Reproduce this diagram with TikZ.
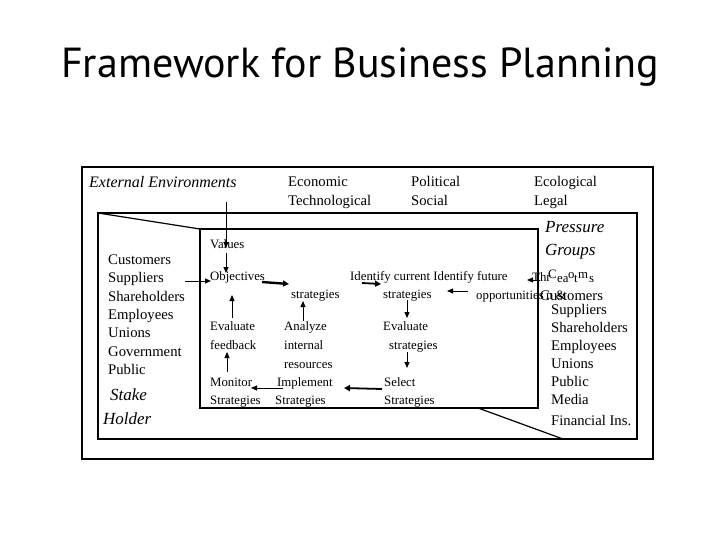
\documentclass[tikz,border=0pt]{standalone}
\usepackage{fontspec}
\setmainfont{Liberation Serif}
\newfontfamily\titlefont{PT Sans}
\usetikzlibrary{arrows.meta}
\begin{document}
\begin{tikzpicture}[x=1pt,y=-1pt,
  frame/.style={line width=1.2pt},
  lbl/.style={anchor=base west,inner sep=0pt,font=\fontsize{14.7}{17}\selectfont},
  ilbl/.style={anchor=base west,inner sep=0pt,font=\fontsize{12.8}{15}\selectfont},
  itl/.style={anchor=base west,inner sep=0pt,font=\fontsize{17}{20}\selectfont\itshape},
  arr/.style={-{Triangle[length=6pt,width=5pt]},line width=0.9pt},
  tarr/.style={-{Triangle[length=6pt,width=6pt]},line width=2.4pt}]
\useasboundingbox (0,0) rectangle (720,540);
% title
\node[inner sep=0pt] (title) at (360,67) {\titlefont\fontsize{42}{50}\selectfont Framework for Business Planning};
% frames
\draw[frame] (82,167) rectangle (653,459);
\draw[frame] (98,213) rectangle (637,439);
\draw[frame] (200,229) rectangle (538,408);
\draw[frame] (98,213) -- (200,229);
\draw[frame] (478,408) -- (563,439);
% top row
\node[itl,font=\fontsize{16}{19}\selectfont\itshape] (ext) at (89,188) {External Environments};
\node[lbl] (eco) at (288,187) {Economic};
\node[lbl] (tech) at (288,206) {Technological};
\node[lbl] (pol) at (411,187) {Political};
\node[lbl] (soc) at (411,206) {Social};
\node[lbl] (ecol) at (534,187) {Ecological};
\node[lbl] (leg) at (534,206) {Legal};
\node[itl] (press) at (545,233) {Pressure};
\node[itl] (groups) at (545,255) {Groups};
% left list
\node[lbl] (lc) at (108,264) {Customers};
\node[lbl] (ls) at (108,282) {Suppliers};
\node[lbl] (lsh) at (108,301) {Shareholders};
\node[lbl] (le) at (108,319) {Employees};
\node[lbl] (lu) at (108,337) {Unions};
\node[lbl] (lg) at (108,356) {Government};
\node[lbl] (lp) at (108,374) {Public};
\node[itl] (stake) at (110,400) {Stake};
\node[itl] (holder) at (103,424) {Holder};
% right list
\node[lbl] (rc) at (540,300) {Customers};
\node[lbl] (rs) at (551,314) {Suppliers};
\node[lbl] (rsh) at (551,332) {Shareholders};
\node[lbl] (re) at (551,350) {Employees};
\node[lbl] (ru) at (551,368) {Unions};
\node[lbl] (rp) at (551,386) {Public};
\node[lbl] (rm) at (551,404) {Media};
\node[lbl] (rf) at (551,425) {Financial Ins.};
% inner
\node[ilbl] (values) at (210,248) {Values};
\node[ilbl] (obj) at (210,280) {Objectives};
\node[ilbl] (str1) at (291,298) {strategies};
\node[ilbl] (ident) at (350,280) {Identify current Identify future};
\node[ilbl] (str2) at (383,298) {strategies};
\node[ilbl] (opp) at (476,299) {opportunities};
\node[ilbl] (nand) at (546,299) {n \&};
\node[ilbl] (thr) at (532,281) {Thr};
\node[ilbl] (g1) at (548,278) {C};
\node[ilbl] (g2) at (557,282) {ea};
\node[ilbl] (g3) at (568,278) {o};
\node[ilbl] (g4) at (574,282) {t};
\node[ilbl] (g5) at (578,278) {m};
\node[ilbl] (g6) at (589,282) {s};
\node[ilbl] (ev1) at (210,330) {Evaluate};
\node[ilbl] (fb) at (210,349) {feedback};
\node[ilbl] (an) at (284,330) {Analyze};
\node[ilbl] (int) at (284,349) {internal};
\node[ilbl] (res) at (284,368) {resources};
\node[ilbl] (mon) at (210,386) {Monitor};
\node[ilbl] (mons) at (210,404) {Strategies};
\node[ilbl] (imp) at (277,386) {Implement};
\node[ilbl] (imps) at (275,404) {Strategies};
\node[ilbl] (ev2) at (383,330) {Evaluate};
\node[ilbl] (ev2s) at (389,349) {strategies};
\node[ilbl] (sel) at (384,386) {Select};
\node[ilbl] (sels) at (384,404) {Strategies};
% arrow endpoints
\coordinate (a1s) at (226,202); \coordinate (a1e) at (226,248);
\coordinate (a2s) at (226,253); \coordinate (a2e) at (226,273);
\coordinate (a3s) at (185,281); \coordinate (a3e) at (211,281);
\coordinate (a4s) at (262,282); \coordinate (a4e) at (289,284);
\coordinate (a5s) at (303,321); \coordinate (a5e) at (303,301);
\coordinate (a6s) at (232,318); \coordinate (a6e) at (232,295);
\coordinate (a7s) at (227,372); \coordinate (a7e) at (227,352);
\coordinate (a8s) at (283,388); \coordinate (a8e) at (251,388);
\coordinate (a9s) at (382,389); \coordinate (a9e) at (344,388);
\coordinate (a10s) at (362,283); \coordinate (a10e) at (381,284);
\coordinate (a11s) at (407,300); \coordinate (a11e) at (407,318);
\coordinate (a12s) at (407,352); \coordinate (a12e) at (407,368);
\coordinate (a13s) at (468,291); \coordinate (a13e) at (447,291);
\coordinate (a14s) at (540,280); \coordinate (a14e) at (527,280);
\draw[arr] (a1s) -- (a1e);
\draw[arr] (a2s) -- (a2e);
\draw[arr] (a3s) -- (a3e);
\draw[tarr] (a4s) -- (a4e);
\draw[arr] (a5s) -- (a5e);
\draw[arr] (a6s) -- (a6e);
\draw[arr] (a7s) -- (a7e);
\draw[arr] (a8s) -- (a8e);
\draw[tarr,line width=1.8pt] (a9s) -- (a9e);
\draw[tarr,line width=1.8pt] (a10s) -- (a10e);
\draw[arr] (a11s) -- (a11e);
\draw[arr] (a12s) -- (a12e);
\draw[arr] (a13s) -- (a13e);
\draw[arr] (a14s) -- (a14e);
\end{tikzpicture}
\end{document}
